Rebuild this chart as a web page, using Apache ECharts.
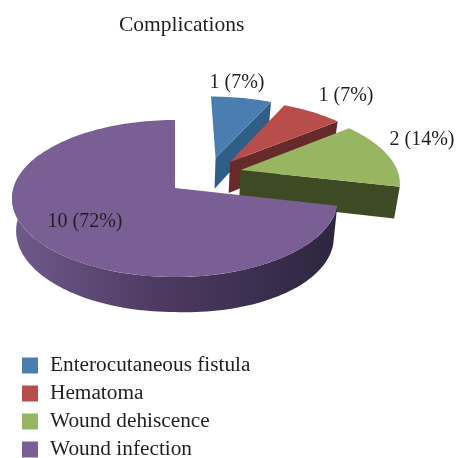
<!DOCTYPE html>
<html>
<head>
<meta charset="utf-8">
<style>
  html, body { margin: 0; padding: 0; background: #fff; }
  #chart { width: 456px; height: 458px; }
</style>
<script src="https://cdn.jsdelivr.net/npm/echarts@6/dist/echarts.min.js"></script>
</head>
<body>
<div id="chart"></div>
<script>
var categories = ["Enterocutaneous fistula", "Hematoma", "Wound dehiscence", "Wound infection"];
var counts = [1, 1, 2, 10];
var percents = [7, 7, 14, 72];

var topColors = ["#4a7eb1", "#b84e4c", "#98b561", "#7a5f95"];
var sideColors = ["#2f5f87", "#672a2a", "#3e4a23", "#4d3a60"];

// 画面参数: 透视投影 (pie plane -> screen)
var plane = { x: 175, y: 188, a: 161.5, b: 77.1, p: 0.134 };
var bottomScale = 0.975; // bottom face is a little narrower
var depth = 32;

// explode offset of each slice, in pie radius units
var explode = [
  { u: 0.265, v: -0.41, tilt: 0 },
  { u: 0.357, v: -0.353, tilt: 0 },
  { u: 0.42, v: -0.24, tilt: 0 },
  { u: 0, v: 0, tilt: 6 }
];
var labelPos = [[237, 83], [346, 96], [422, 140], [85, 222]];

var total = counts.reduce(function (s, c) { return s + c; }, 0);

function project(u, v) {
  var w = 1 - plane.p * v;
  return [plane.x + plane.a * u / w, plane.y + plane.b * v / w];
}

function dropPoint(i, u, v) {
  var pt = project(u, v);
  return [
    plane.x + (pt[0] - plane.x) * bottomScale,
    pt[1] + depth + 3 * v + explode[i].tilt * Math.max(u, 0)
  ];
}

// angle in radians, clockwise from 12 o'clock
function rimUV(i, angle) {
  return [explode[i].u + Math.sin(angle), explode[i].v - Math.cos(angle)];
}

function arcPoints(i, from, to, lower) {
  var pts = [];
  var n = Math.max(2, Math.ceil(Math.abs(to - from) / 0.03));
  for (var k = 0; k <= n; k++) {
    var uv = rimUV(i, from + (to - from) * k / n);
    pts.push(lower ? dropPoint(i, uv[0], uv[1]) : project(uv[0], uv[1]));
  }
  return pts;
}

function renderSlice(i) {
  return function (params, api) {
    var before = counts.slice(0, i).reduce(function (s, c) { return s + c; }, 0);
    var start = before / total * Math.PI * 2;
    var end = start + api.value(0) / total * Math.PI * 2;
    var e = explode[i];
    var children = [];

    var apexTop = project(e.u, e.v);
    var apexBottom = dropPoint(i, e.u, e.v);
    var tipUV = rimUV(i, end);

    if (i === 3) {
      // outer wall of the big slice, only the part facing us
      var wallEnd = Math.PI * 1.65;
      var upper = arcPoints(i, start, wallEnd, false);
      var lower = arcPoints(i, start, wallEnd, true).reverse();
      children.push({
        type: "polygon",
        shape: { points: upper.concat(lower) },
        style: {
          fill: new echarts.graphic.LinearGradient(0, 0, 1, 0, [
            { offset: 0, color: "#6f5a8b" },
            { offset: 0.45, color: sideColors[i] },
            { offset: 1, color: "#2d2640" }
          ])
        }
      });
    } else {
      // cut face of the exploded slices
      children.push({
        type: "polygon",
        shape: { points: [apexTop, project(tipUV[0], tipUV[1]), dropPoint(i, tipUV[0], tipUV[1]), apexBottom] },
        style: { fill: sideColors[i] }
      });
    }

    children.push({
      type: "polygon",
      shape: { points: [apexTop].concat(arcPoints(i, start, end, false)) },
      style: { fill: topColors[i] }
    });

    children.push({
      type: "text",
      style: {
        x: labelPos[i][0],
        y: labelPos[i][1],
        text: api.value(0) + " (" + percents[i] + "%)",
        align: "center",
        verticalAlign: "middle",
        fill: "#231f20",
        font: "20px 'Liberation Serif'"
      }
    });

    return { type: "group", children: children };
  };
}

var chart = echarts.init(document.getElementById("chart"));

chart.setOption({
  animation: false,
  backgroundColor: "#fff",
  title: {
    text: "Complications",
    left: 119,
    top: 14,
    padding: 0,
    textStyle: {
      color: "#231f20",
      fontFamily: "Liberation Serif",
      fontSize: 21.5,
      fontWeight: "normal"
    }
  },
  legend: {
    orient: "vertical",
    left: 22,
    top: 355,
    height: 200,
    padding: 0,
    itemWidth: 16,
    itemHeight: 16,
    itemGap: 7,
    icon: "rect",
    data: categories,
    textStyle: {
      color: "#231f20",
      fontFamily: "Liberation Serif",
      fontSize: 21.3,
      padding: [0, 0, 0, 7]
    }
  },
  series: categories.map(function (name, i) {
    return {
      name: name,
      type: "custom",
      coordinateSystem: "none",
      itemStyle: { color: topColors[i] },
      renderItem: renderSlice(i),
      data: [[counts[i]]]
    };
  })
});
</script>
</body>
</html>
